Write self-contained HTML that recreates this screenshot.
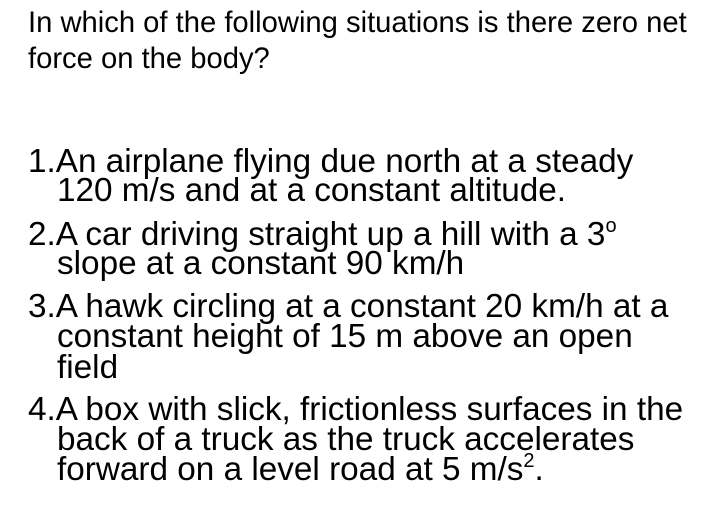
<!DOCTYPE html>
<html><head><meta charset="utf-8"><style>
html,body{margin:0;padding:0;background:#fff;}
body{width:701px;height:519px;position:relative;overflow:hidden;font-family:"Liberation Sans",Arial,sans-serif;color:#000;}
.t{position:absolute;left:28px;font-size:29.2px;line-height:29px;white-space:nowrap;}
.i{position:absolute;font-size:33.3px;line-height:33px;white-space:nowrap;}
.n{left:28px}.c{left:57px}
sup{font-size:0.6em;line-height:0;vertical-align:0.65em;}
</style></head><body>
<div class="t" style="top:9px">In which of the following situations is there zero net</div>
<div class="t" style="top:45px">force on the body?</div>

<div class="i n" style="top:145px">1.An airplane flying due north at a steady</div>
<div class="i c" style="top:174px">120 m/s and at a constant altitude.</div>

<div class="i n" style="top:218px">2.A car driving straight up a hill with a 3<sup>o</sup></div>
<div class="i c" style="top:247px">slope at a constant 90 km/h</div>

<div class="i n" style="top:290px">3.A hawk circling at a constant 20 km/h at a</div>
<div class="i c" style="top:320px">constant height of 15 m above an open</div>
<div class="i c" style="top:351px">field</div>

<div class="i n" style="top:393px">4.A box with slick, frictionless surfaces in the</div>
<div class="i c" style="top:423px">back of a truck as the truck accelerates</div>
<div class="i c" style="top:453px">forward on a level road at 5 m/s<sup>2</sup>.</div>
</body></html>
